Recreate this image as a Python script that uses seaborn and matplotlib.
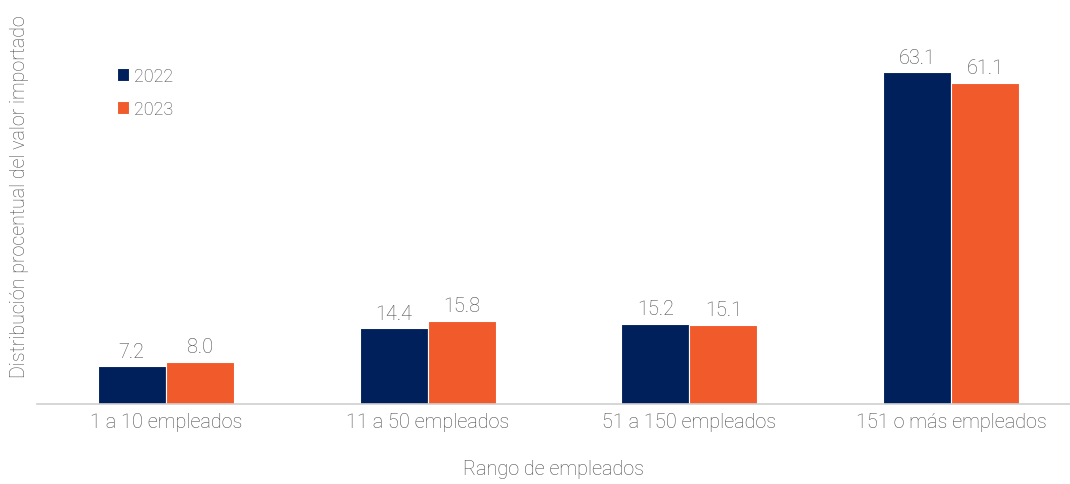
import pandas as pd
import matplotlib
matplotlib.use("Agg")
import matplotlib.pyplot as plt
import seaborn as sns

# ===================== DATA =====================
categories = ["1 a 10 empleados", "11 a 50 empleados", "51 a 150 empleados", "151 o más empleados"]
years = ["2022", "2023"]
values_2022 = [7.2, 14.4, 15.2, 63.1]
values_2023 = [8.0, 15.8, 15.1, 61.1]

df = pd.DataFrame({
    "rango": categories * 2,
    "anio": [years[0]] * 4 + [years[1]] * 4,
    "valor": values_2022 + values_2023,
})

sns.set_style("white")
plt.rcParams["font.family"] = ["Roboto", "DejaVu Sans"]
TXT = "#4a4a4a"
W = "light"
palette = {"2022": "#00205b", "2023": "#f15a2b"}

fig = plt.figure(figsize=(10.7, 4.85), dpi=100)
ax = fig.add_axes([37 / 1070, 80 / 485, 1033 / 1070, 405 / 485])

sns.barplot(data=df, x="rango", y="valor", hue="anio", palette=palette, saturation=1,
            width=0.52, edgecolor="white", linewidth=0.8, ax=ax)

for cont in ax.containers:
    ax.bar_label(cont, fmt="%.1f", padding=4, fontsize=14.3, color=TXT, fontweight=W)

ax.set_ylim(0, 77)
ax.set_xlim(-0.492, 3.454)
ax.set_yticks([])
for s in ["top", "right", "left"]:
    ax.spines[s].set_visible(False)
ax.spines["bottom"].set_color("#d0d0d0")
ax.spines["bottom"].set_linewidth(1.2)
ax.tick_params(axis="x", length=0, pad=6, labelsize=14.3, labelcolor=TXT)
for t in ax.get_xticklabels():
    t.set_fontweight(W)

ax.set_xlabel("Rango de empleados", fontsize=14.3, color=TXT, labelpad=20, fontweight=W)
ax.set_ylabel("Distribución procentual del valor importado", fontsize=14.1, color=TXT,
              fontweight=W)
ax.yaxis.set_label_coords(-8 / 1033, 0.514)

leg = ax.legend(loc="upper left", bbox_to_anchor=(64 / 1033, 0.873), frameon=False,
                fontsize=13, handlelength=0.65, handleheight=0.75, handletextpad=0.3,
                labelspacing=0.85, title=None)
for t in leg.get_texts():
    t.set_color(TXT)
    t.set_fontweight(W)

fig.savefig("out.png", dpi=100)
